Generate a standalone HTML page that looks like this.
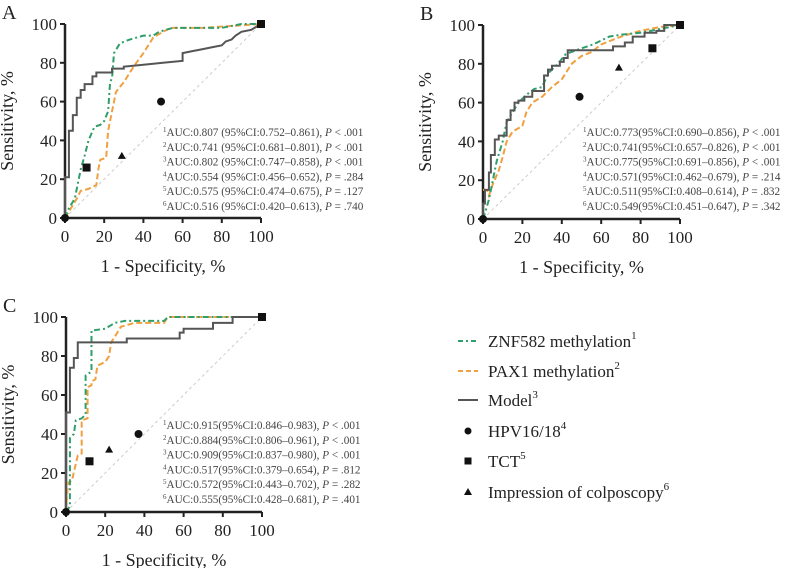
<!DOCTYPE html>
<html><head><meta charset="utf-8">
<style>
html,body{margin:0;padding:0;background:#fff;}
svg, svg text{font-family:"Liberation Serif","DejaVu Serif",serif;}
</style></head>
<body>
<svg id="chart" width="790" height="568" viewBox="0 0 790 568" font-family="Liberation Serif, serif"></svg>
<script>
// ---- Panel A data ----
const aZnf = [[0,0],[2,5],[5,10],[7,20],[8,25],[10,32],[12,40],[15,47],[18,48],[20,50],[22,55],[23,70],[24,72],[25,85],[28,90],[33,92],[40,94],[45,94],[48,96],[55,98],[80,98],[90,100],[100,100]];
const aPax = [[0,0],[3,5],[6,10],[8,14],[12,15],[16,17],[17,25],[18,30],[21,31],[22,45],[24,55],[26,65],[30,70],[35,78],[40,85],[45,93],[50,96],[54,98],[70,98],[100,100]];
const aModel = [[0,0],[0,21],[2,21],[2,45],[4,45],[4,53],[6,53],[6,62],[8,62],[8,66],[10,66],[10,69],[14,69],[14,73],[16,73],[16,75],[24,75],[24,77],[30,77],[30,78],[40,79],[50,80],[60,81],[60,85],[65,86],[70,87],[75,88],[80,89],[82,91],[85,92],[87,94],[90,96],[95,97],[100,100]];
const aHpv = [[0,0],[49,60]];
const aTct = [[11,26],[100,100]];
const aImp = [[29,32]];
const aAuc = ["0.807 (95%CI:0.752–0.861)","0.741 (95%CI:0.681–0.801)","0.802 (95%CI:0.747–0.858)","0.554 (95%CI:0.456–0.652)","0.575 (95%CI:0.474–0.675)","0.516 (95%CI:0.420–0.613)"];
const aP = ["< .001","< .001","< .001","= .284","= .127","= .740"];
// ---- Panel B data ----
const bZnf = [[0,0],[1,3],[3,10],[5,20],[7,30],[10,40],[12,50],[15,55],[18,60],[22,64],[26,67],[30,68],[33,75],[38,80],[42,85],[50,88],[56,90],[60,92],[64,94],[70,95],[80,96],[90,98],[100,100]];
const bPax = [[0,15],[2,15],[3,12],[5,18],[8,25],[10,32],[12,40],[15,45],[20,48],[22,55],[25,60],[30,63],[35,68],[40,72],[45,80],[50,84],[55,86],[60,90],[70,94],[80,97],[90,99],[100,100]];
const bModel = [[0,0],[0,8],[1,8],[1,15],[3,15],[3,24],[4,24],[4,33],[6,33],[6,41],[8,41],[8,43],[12,43],[12,51],[14,51],[14,56],[16,56],[16,60],[18,60],[18,61],[21,61],[21,63],[25,63],[25,66],[31,66],[31,74],[33,74],[33,77],[35,77],[35,79],[39,79],[39,81],[41,81],[41,83],[43,83],[43,87],[66,87],[66,89],[72,89],[72,91],[76,91],[76,94],[82,94],[82,96],[88,96],[88,97],[92,97],[92,100],[100,100]];
const bHpv = [[0,0],[49,63]];
const bTct = [[86,88],[100,100]];
const bImp = [[69,78]];
const bAuc = ["0.773(95%CI:0.690–0.856)","0.741(95%CI:0.657–0.826)","0.775(95%CI:0.691–0.856)","0.571(95%CI:0.462–0.679)","0.511(95%CI:0.408–0.614)","0.549(95%CI:0.451–0.647)"];
const bP = ["< .001","< .001","< .001","= .214","= .832","= .342"];
// ---- Panel C data ----
const cZnf = [[0,0],[2,3],[2,38],[4,40],[5,47],[8,48],[10,50],[10,70],[13,72],[13,93],[20,94],[25,97],[30,98],[50,98],[52,100],[100,100]];
const cPax = [[0,0],[1,15],[3,16],[6,29],[8,30],[8,47],[11,48],[11,64],[13,65],[13,67],[15,68],[16,75],[20,77],[22,80],[23,87],[25,90],[28,95],[35,97],[50,97],[52,100],[100,100]];
const cModel = [[0,0],[0,51],[2,51],[2,74],[4,74],[4,79],[6,79],[6,87],[31,87],[31,89],[58,89],[58,92],[60,92],[60,94],[75,94],[75,97],[85,97],[85,100],[100,100]];
const cHpv = [[0,0],[37,40]];
const cTct = [[12,26],[100,100]];
const cImp = [[22,32]];
const cAuc = ["0.915(95%CI:0.846–0.983)","0.884(95%CI:0.806–0.961)","0.909(95%CI:0.837–0.980)","0.517(95%CI:0.379–0.654)","0.572(95%CI:0.443–0.702)","0.555(95%CI:0.428–0.681)"];
const cP = ["< .001","< .001","< .001","= .812","= .282","= .401"];
const ticks = [0,20,40,60,80,100];

const NS = "http://www.w3.org/2000/svg";
const svg = document.getElementById('chart');
const FF = '"Liberation Serif", "DejaVu Serif", serif';
function mk(tag, attrs, parent, text){
  const e = document.createElementNS(NS, tag);
  for (const k in attrs) e.setAttribute(k, attrs[k]);
  if (tag === 'text') e.style.fontFamily = FF;
  if (text !== undefined) e.textContent = text;
  (parent||svg).appendChild(e);
  return e;
}
const GREEN="#2e9e6a", ORANGE="#f0a040", GRAY="#555";

function panel(id, letter, x0, x1, y0, y1, znf, pax, model, hpv, tct, imp, auc, pv, tx, ty){
  const g = mk('g', {});
  
  
  const sx = v => x0 + (x1 - x0) * v / 100;
  const sy = v => y0 - (y0 - y1) * v / 100;
  const lt = mk('text', {x: x0 - 63, y: y1 - 5, 'font-size': 20, fill: '#222'}, g, letter);
  
  
  const diag = mk('line', {x1: sx(0), y1: sy(0), x2: sx(100), y2: sy(100), stroke: '#ccc', 'stroke-width': 1, 'stroke-dasharray': '3,3'}, g);
  
  
  const ax = mk('path', {d: `M${sx(0)},${sy(100)} V${sy(0)} H${sx(100)}`, fill: 'none', stroke: '#222', 'stroke-width': 2.5}, g);
  
  
  ticks.forEach(t => {
    mk('line', {x1: sx(0) - 5, x2: sx(0), y1: sy(t), y2: sy(t), stroke: '#222', 'stroke-width': 2}, g);
    mk('line', {x1: sx(t), x2: sx(t), y1: sy(0), y2: sy(0) + 5, stroke: '#222', 'stroke-width': 2}, g);
    const yl = mk('text', {x: sx(0) - 8, y: sy(t) + 6, 'font-size': 17, 'text-anchor': 'end', fill: '#222'}, g, t);
    
    
    const xl = mk('text', {x: sx(t), y: sy(0) + 24, 'font-size': 17, 'text-anchor': 'middle', fill: '#222'}, g, t);
    
    
  });
  const yt = mk('text', {transform: `translate(${x0 - 52},${(y0 + y1) / 2}) rotate(-90)`, 'font-size': 18, 'text-anchor': 'middle', fill: '#222'}, g, 'Sensitivity, %');
  
  
  const xt = mk('text', {x: (x0 + x1) / 2, y: y0 + 54, 'font-size': 18, 'text-anchor': 'middle', fill: '#222'}, g, '1 - Specificity, %');
  
  
  const path = pts => pts.map((p, i) => (i ? 'L' : 'M') + sx(p[0]) + ',' + sy(p[1])).join(' ');
  const l1 = mk('path', {d: path(pax), fill: 'none', stroke: ORANGE, 'stroke-width': 2, 'stroke-dasharray': '6,3'}, g);
  
  
  const l2 = mk('path', {d: path(znf), fill: 'none', stroke: GREEN, 'stroke-width': 2, 'stroke-dasharray': '6,3,2,3'}, g);
  
  
  const l3 = mk('path', {d: path(model), fill: 'none', stroke: GRAY, 'stroke-width': 2}, g);
  
  
  hpv.forEach(p => {
    const c = mk('circle', {cx: sx(p[0]), cy: sy(p[1]), r: 4, fill: '#111'}, g);
    
    
  });
  tct.forEach(p => {
    const r = mk('rect', {x: sx(p[0]) - 4, y: sy(p[1]) - 4, width: 8, height: 8, fill: '#111'}, g);
    
    
  });
  imp.forEach(p => {
    const X = sx(p[0]), Y = sy(p[1]);
    const t = mk('polygon', {points: `${X},${Y - 4} ${X - 4},${Y + 3} ${X + 4},${Y + 3}`, fill: '#111'}, g);
    
    
  });
  auc.forEach((a, i) => {
    const t = mk('text', {x: tx, y: ty + i * 14.8 + 4, 'font-size': 11.2, fill: '#444'}, g);
    
    
    mk('tspan', {'font-size': 7, dy: -4}, t, i + 1);
    mk('tspan', {dy: 4}, t, 'AUC:' + a + ', ');
    mk('tspan', {'font-style': 'italic'}, t, 'P');
    mk('tspan', {}, t, ' ' + pv[i]);
  });
}
panel('a', 'A', 65, 261, 218, 24, aZnf, aPax, aModel, aHpv, aTct, aImp, aAuc, aP, 163, 132);
panel('b', 'B', 483, 680, 219, 25, bZnf, bPax, bModel, bHpv, bTct, bImp, bAuc, bP, 583, 132);
panel('c', 'C', 66, 262, 512, 317, cZnf, cPax, cModel, cHpv, cTct, cImp, cAuc, cP, 163, 425);

// legend
const lg = mk('g', {});


const items = [
  ['ZNF582 methylation', '1', 'line', GREEN, '5,3,2,3'],
  ['PAX1 methylation', '2', 'line', ORANGE, '5,3'],
  ['Model', '3', 'line', GRAY, ''],
  ['HPV16/18', '4', 'circle'],
  ['TCT', '5', 'square'],
  ['Impression of colposcopy', '6', 'tri']
];
const rowsY = [341, 371, 400, 431, 461, 492];
items.forEach((it, i) => {
  const y = rowsY[i];
  const e = mk('g', {}, lg);
  
  
  if (it[2] === 'line') mk('line', {x1: 458, x2: 478, y1: y, y2: y, stroke: it[3], 'stroke-width': 2, 'stroke-dasharray': it[4]}, e);
  else if (it[2] === 'circle') mk('circle', {cx: 468, cy: y, r: 3.5, fill: '#111'}, e);
  else if (it[2] === 'square') mk('rect', {x: 464.5, y: y - 3.5, width: 7, height: 7, fill: '#111'}, e);
  else mk('polygon', {points: `468,${y - 4} 464,${y + 3} 472,${y + 3}`, fill: '#111'}, e);
  const t = mk('text', {x: 488, y: y + 6, 'font-size': 17, fill: '#222'}, e, it[0]);
  mk('tspan', {'font-size': 11, dy: -8}, t, it[1]);
});
</script>
</body></html>
